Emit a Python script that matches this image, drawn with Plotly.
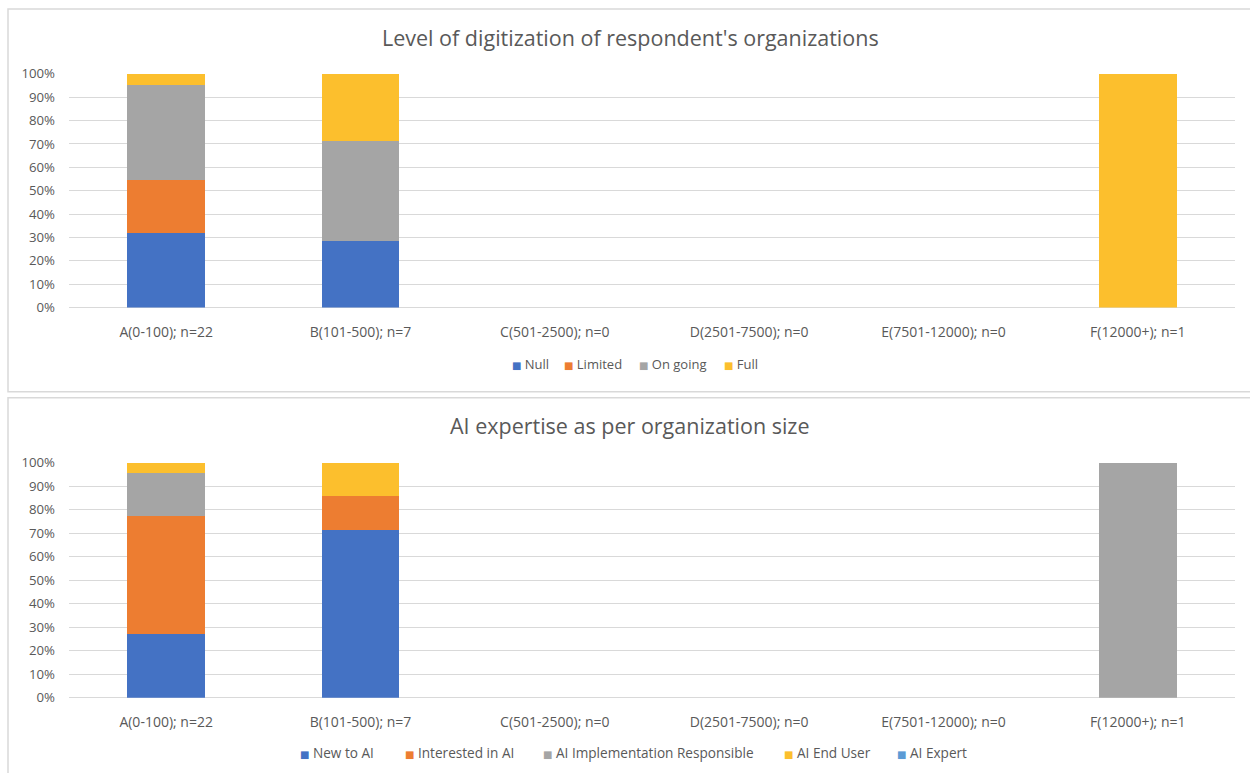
import plotly.graph_objects as go

# ---------------- data ----------------
categories = ["A(0-100); n=22", "B(101-500); n=7", "C(501-2500); n=0",
              "D(2501-7500); n=0", "E(7501-12000); n=0", "F(12000+); n=1"]

# Chart 1: Level of digitization (shares, 0-1)
dig_null     = [0.318, 0.286, 0, 0, 0, 0]
dig_limited  = [0.227, 0.0,   0, 0, 0, 0]
dig_ongoing  = [0.409, 0.428, 0, 0, 0, 0]
dig_full     = [0.046, 0.286, 0, 0, 0, 1.0]

# Chart 2: AI expertise (shares, 0-1)
ai_new       = [0.273, 0.714, 0, 0, 0, 0]
ai_interest  = [0.500, 0.143, 0, 0, 0, 0]
ai_impl      = [0.182, 0.0,   0, 0, 0, 1.0]
ai_enduser   = [0.045, 0.143, 0, 0, 0, 0]
ai_expert    = [0.0,   0.0,   0, 0, 0, 0]

title1 = "Level of digitization of respondent's organizations"
title2 = "AI expertise as per organization size"

# ---------------- style ----------------
BLUE, ORANGE, GRAY, GOLD, LBLUE = "#4472C4", "#ED7D31", "#A5A5A5", "#FCBF2D", "#5B9BD5"
TXT = "#595959"
GRID = "#D9D9D9"
FONT = "Open Sans"

W, H = 1250, 781
OFF, SC = 8.45, 0.978   # observed page offset / vertical scaling of the photo
def px(X):  # photo x -> paper
    return X / W
def py(Y):  # photo y -> paper
    return 1 - ((Y - OFF) / SC) / H

fig = go.Figure()

series1 = [("Null", dig_null, BLUE), ("Limited", dig_limited, ORANGE),
           ("On going", dig_ongoing, GRAY), ("Full", dig_full, GOLD)]
for name, vals, col in series1:
    fig.add_trace(go.Bar(x=categories, y=vals, name=name, marker_color=col,
                         marker_line_width=0, width=0.4,
                         xaxis="x", yaxis="y"))

series2 = [("New to AI", ai_new, BLUE), ("Interested in AI", ai_interest, ORANGE),
           ("AI Implementation Responsible", ai_impl, GRAY),
           ("AI End User", ai_enduser, GOLD), ("AI Expert", ai_expert, LBLUE)]
for name, vals, col in series2:
    fig.add_trace(go.Bar(x=categories, y=vals, name=name, marker_color=col,
                         marker_line_width=0, width=0.4,
                         xaxis="x2", yaxis="y2"))

# legend entries drawn as text (compact Excel-like legend)
legend1_x = [510, 562, 637, 722]
legend2_x = [298, 403, 541, 782, 895]


def legend_annots(series, xs, ypix, size):
    out = []
    sq = '<span style="font-family:DejaVu Sans;font-size:10px;color:{c}">■</span>'
    for (n, _, c), x in zip(series, xs):
        out.append(dict(text=sq.format(c=c) + "\u00a0" + n, x=px(x), y=py(ypix),
                        xref="paper", yref="paper", xanchor="left", yanchor="middle",
                        showarrow=False, font=dict(family=FONT, size=size, color=TXT)))
    return out


xdom = [px(69), px(1235)]
common_x = dict(type="category", showgrid=False, showline=False, zeroline=False,
                ticks="", tickfont=dict(family=FONT, size=14, color=TXT),
                ticklabelstandoff=14, fixedrange=True)
common_y = dict(range=[0, 1], tickformat=".0%", dtick=0.1, showgrid=True,
                gridcolor=GRID, gridwidth=1, zeroline=True, zerolinecolor=GRID,
                zerolinewidth=1, showline=False, ticks="",
                tickfont=dict(family=FONT, size=13.2, color=TXT),
                ticklabelstandoff=13, fixedrange=True)

annots = [
    dict(text=title1, x=px(630), y=py(37), xref="paper", yref="paper",
         xanchor="center", yanchor="middle", showarrow=False,
         font=dict(family=FONT, size=21.5, color=TXT)),
    dict(text=title2, x=px(630), y=py(425), xref="paper", yref="paper",
         xanchor="center", yanchor="middle", showarrow=False,
         font=dict(family=FONT, size=21.5, color=TXT)),
]
annots += legend_annots(series1, legend1_x, 364, 13)
annots += legend_annots(series2, legend2_x, 753, 13.6)

fig.update_layout(
    width=W, height=H, margin=dict(l=0, r=0, t=0, b=0),
    paper_bgcolor="white", plot_bgcolor="white",
    barmode="stack", showlegend=False,
    font=dict(family=FONT, color=TXT),
    xaxis=dict(domain=xdom, anchor="y", **common_x),
    yaxis=dict(domain=[py(307.3), py(73.3)], anchor="x", **common_y),
    xaxis2=dict(domain=xdom, anchor="y2", **common_x),
    yaxis2=dict(domain=[py(698), py(462.5)], anchor="x2", **common_y),
    annotations=annots,
    shapes=[
        dict(type="rect", xref="paper", yref="paper", x0=px(8), x1=1.02,
             y0=py(391.5), y1=py(8.5), line=dict(color=GRID, width=1.5)),
        dict(type="rect", xref="paper", yref="paper", x0=px(8), x1=1.02,
             y0=-0.05, y1=py(397.5), line=dict(color=GRID, width=1.5)),
    ],
)

fig.write_html(
    "out.html",
    config={"displayModeBar": False, "staticPlot": True},
    post_script="document.documentElement.style.overflow='hidden';"
                "document.body.style.margin='0';document.body.style.overflow='hidden';",
)
